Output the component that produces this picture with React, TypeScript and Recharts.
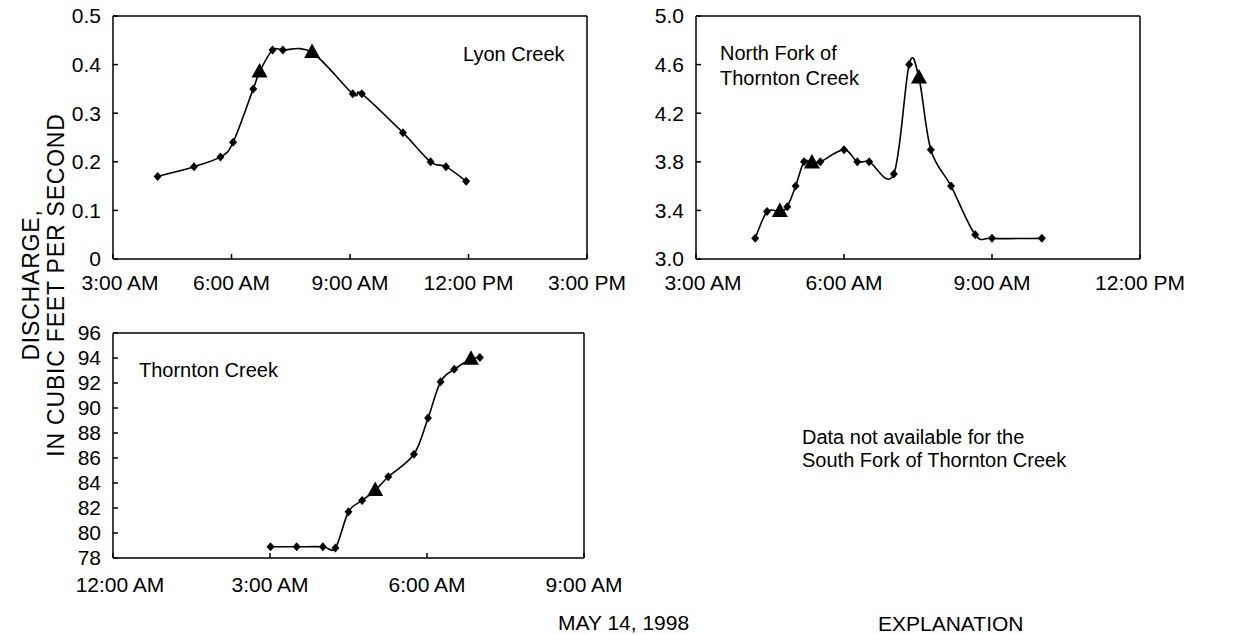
import { LineChart, Line, XAxis, YAxis } from 'recharts';

const FONT = '"Liberation Sans", Arial, Helvetica, sans-serif';

// time in hours after midnight, May 14 1998; discharge in cubic feet per second
// sampled = a water sample was collected (triangle marker)
const lyonHours = [4.13, 5.05, 5.72, 6.04, 6.55, 6.71, 7.04, 7.3, 8.04, 9.07, 9.3, 10.34, 11.04, 11.43, 11.94];
const lyonFlow = [0.17, 0.19, 0.21, 0.24, 0.35, 0.385, 0.43, 0.43, 0.425, 0.34, 0.34, 0.26, 0.2, 0.19, 0.16];
const lyonSampled = [false, false, false, false, false, true, false, false, true, false, false, false, false, false, false];

const northHours = [4.2, 4.44, 4.7, 4.85, 5.02, 5.19, 5.35, 5.52, 6.0, 6.27, 6.51, 7.01, 7.32, 7.52, 7.76, 8.17, 8.66, 9.0, 10.01];
const northFlow = [3.17, 3.39, 3.39, 3.43, 3.6, 3.8, 3.79, 3.8, 3.9, 3.8, 3.8, 3.7, 4.6, 4.49, 3.9, 3.6, 3.2, 3.17, 3.17];
const northSampled = [false, false, true, false, false, false, true, false, false, false, false, false, false, true, false, false, false, false, false];

const thorntonHours = [3.01, 3.51, 4.01, 4.25, 4.5, 4.76, 5.01, 5.26, 5.75, 6.02, 6.26, 6.52, 6.84, 7.01];
const thorntonFlow = [78.9, 78.9, 78.9, 78.8, 81.7, 82.6, 83.4, 84.5, 86.3, 89.2, 92.1, 93.1, 93.9, 94.05];
const thorntonSampled = [false, false, false, false, false, false, true, false, false, false, false, false, true, false];

const lyonXTicks = [3, 6, 9, 12, 15];
const lyonYTicks = [0, 0.1, 0.2, 0.3, 0.4, 0.5];
const northXTicks = [3, 6, 9, 12];
const northYTicks = [3.0, 3.4, 3.8, 4.2, 4.6, 5.0];
const thorntonXTicks = [0, 3, 6, 9];
const thorntonYTicks = [78, 80, 82, 84, 86, 88, 90, 92, 94, 96];

const toRows = (hours: number[], flow: number[], sampled: boolean[]) =>
  hours.map((hour, i) => ({ hour, q: flow[i], sampled: sampled[i] }));

const clock = (h: number) => {
  const hh = h % 12 === 0 ? 12 : h % 12;
  return `${hh}:00 ${h % 24 < 12 ? 'AM' : 'PM'}`;
};

// Catmull-Rom style smoothing, like the plotting package's spline
const catmullRom = (context: any) => {
  let pts: number[][] = [];
  return {
    areaStart() {},
    areaEnd() {},
    lineStart() {
      pts = [];
    },
    point(x: number, y: number) {
      pts.push([+x, +y]);
    },
    lineEnd() {
      if (!pts.length) return;
      context.moveTo(pts[0][0], pts[0][1]);
      for (let i = 0; i < pts.length - 1; i++) {
        const p0 = pts[i - 1] || pts[i];
        const p1 = pts[i];
        const p2 = pts[i + 1];
        const p3 = pts[i + 2] || p2;
        context.bezierCurveTo(
          p1[0] + (p2[0] - p0[0]) / 6,
          p1[1] + (p2[1] - p0[1]) / 6,
          p2[0] - (p3[0] - p1[0]) / 6,
          p2[1] - (p3[1] - p1[1]) / 6,
          p2[0],
          p2[1]
        );
      }
    },
  };
};

const renderDot = (props: any) => {
  const { cx, cy, payload, index } = props;
  if (cx == null || cy == null) return <g key={index} />;
  if (payload.sampled) {
    return <path key={index} d={`M${cx},${cy - 9}L${cx + 8},${cy + 5.5}L${cx - 8},${cy + 5.5}Z`} fill="#000" />;
  }
  return <path key={index} d={`M${cx},${cy - 4.5}L${cx + 4},${cy}L${cx},${cy + 4.5}L${cx - 4},${cy}Z`} fill="#000" />;
};

const tickText = { fill: '#000', fontSize: 21, fontFamily: FONT };
const axisStroke = { stroke: '#000', strokeWidth: 1.5 };

// first time label sits a little right of the corner, as in the printed figure
const TimeTick = (props: any) => {
  const { x, y, payload, index } = props;
  return (
    <text x={x + (index === 0 ? 7 : 0)} y={y} dy="0.71em" textAnchor="middle" {...tickText}>
      {clock(payload.value)}
    </text>
  );
};

interface PanelProps {
  left: number;
  top: number;
  width: number;
  height: number;
  rows: { hour: number; q: number; sampled: boolean }[];
  xTicks: number[];
  yTicks: number[];
  yFormat: (v: number) => string;
  labelGap: number;
}

const Panel = ({ left, top, width, height, rows, xTicks, yTicks, yFormat, labelGap }: PanelProps) => {
  const xDomain = [xTicks[0], xTicks[xTicks.length - 1]];
  const yDomain = [yTicks[0], yTicks[yTicks.length - 1]];
  return (
    <div style={{ position: 'absolute', left, top }}>
      <LineChart width={width} height={height} data={rows} margin={{ top: 15, right: 45, bottom: 0, left: 0 }}>
        <XAxis
          type="number"
          dataKey="hour"
          domain={xDomain}
          ticks={xTicks}
          interval={0}
          allowDataOverflow
          height={40}
          tickSize={-5}
          tickMargin={labelGap}
          axisLine={axisStroke}
          tickLine={axisStroke}
          tick={<TimeTick />}
        />
        <XAxis
          xAxisId="top"
          orientation="top"
          type="number"
          dataKey="hour"
          domain={xDomain}
          ticks={xTicks}
          interval={0}
          allowDataOverflow
          height={1}
          tickSize={-5}
          axisLine={axisStroke}
          tickLine={axisStroke}
          tick={false}
        />
        <YAxis
          type="number"
          domain={yDomain}
          ticks={yTicks}
          interval={0}
          allowDataOverflow
          tickFormatter={yFormat}
          width={50}
          tickSize={-5}
          tickMargin={17}
          axisLine={axisStroke}
          tickLine={axisStroke}
          tick={tickText}
        />
        <YAxis
          yAxisId="right"
          orientation="right"
          type="number"
          domain={yDomain}
          ticks={yTicks}
          interval={0}
          allowDataOverflow
          width={1}
          tickSize={-5}
          axisLine={axisStroke}
          tickLine={axisStroke}
          tick={false}
        />
        <Line
          dataKey="q"
          type={catmullRom as any}
          stroke="#000"
          strokeWidth={1.6}
          dot={renderDot}
          activeDot={false}
          isAnimationActive={false}
        />
      </LineChart>
    </div>
  );
};

const label = { fontFamily: FONT, fontSize: 20, fill: '#000' };

export default function App() {
  return (
    <div style={{ position: 'absolute', left: 0, top: 0, width: 1250, height: 635, background: '#fff' }}>
      <Panel
        left={63}
        top={0}
        width={570}
        height={299}
        rows={toRows(lyonHours, lyonFlow, lyonSampled)}
        xTicks={lyonXTicks}
        yTicks={lyonYTicks}
        yFormat={(v) => (v === 0 ? '0' : v.toFixed(1))}
        labelGap={21}
      />
      <Panel
        left={646}
        top={0}
        width={540}
        height={299}
        rows={toRows(northHours, northFlow, northSampled)}
        xTicks={northXTicks}
        yTicks={northYTicks}
        yFormat={(v) => v.toFixed(1)}
        labelGap={21}
      />
      <Panel
        left={63}
        top={317}
        width={567}
        height={281}
        rows={toRows(thorntonHours, thorntonFlow, thorntonSampled)}
        xTicks={thorntonXTicks}
        yTicks={thorntonYTicks}
        yFormat={(v) => String(v)}
        labelGap={24}
      />
      <svg width={1250} height={635} style={{ position: 'absolute', left: 0, top: 0, pointerEvents: 'none' }}>
        <text {...label} fontSize={23} letterSpacing={0.8} x={31} y={285} textAnchor="middle" dominantBaseline="central" transform="rotate(-90 31 285)">
          DISCHARGE,
        </text>
        <text {...label} fontSize={23} letterSpacing={0.8} x={56} y={285} textAnchor="middle" dominantBaseline="central" transform="rotate(-90 56 285)">
          IN CUBIC FEET PER SECOND
        </text>
        <text {...label} x={463} y={61}>Lyon Creek</text>
        <text {...label} x={720} y={60}>North Fork of</text>
        <text {...label} x={720} y={85}>Thornton Creek</text>
        <text {...label} x={139} y={377}>Thornton Creek</text>
        <text {...label} x={802} y={444}>Data not available for the</text>
        <text {...label} x={802} y={467}>South Fork of Thornton Creek</text>
        <text {...label} fontSize={21} x={558} y={630}>MAY 14, 1998</text>
        <text {...label} fontSize={21} x={878} y={631}>EXPLANATION</text>
      </svg>
    </div>
  );
}
